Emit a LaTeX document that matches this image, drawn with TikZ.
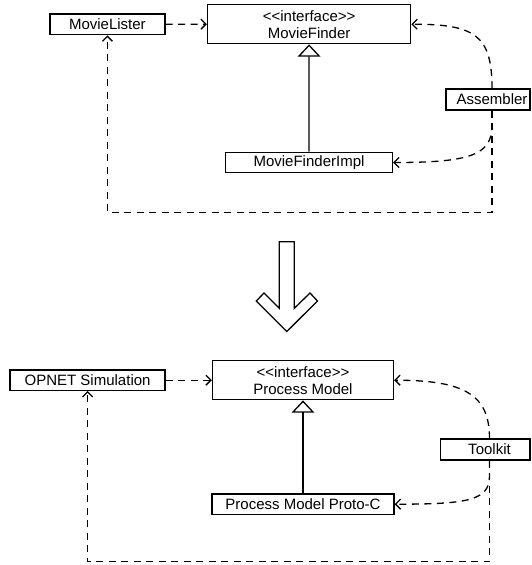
\documentclass[tikz,border=0pt]{standalone}
\usepackage{fontspec}
\setmainfont{Liberation Sans}
\usetikzlibrary{arrows.meta}
\begin{document}
\begin{tikzpicture}[x=1pt,y=-1pt, line width=1.3pt,
  box/.style={draw, rectangle, inner sep=0pt, font=\fontsize{15pt}{17pt}\selectfont, align=center},
  dep/.style={dash pattern=on 7pt off 5.5pt, -{Straight Barb[length=5pt,width=10pt]}},
  inh/.style={-{Triangle[open,length=12.3pt,width=22.7pt]}}]
\useasboundingbox (0,0) rectangle (531,565);

% ---------- top diagram ----------
\node[box, minimum width=115pt, minimum height=20.7pt] (lister) at (107.4,24.35) {MovieLister};
\node[box, minimum width=203.2pt, minimum height=39pt] (finder) at (309.1,24.2) {<{}<interface>{}>\\MovieFinder};
\node[box, minimum width=167pt, minimum height=20.4pt] (impl) at (309,162.5) {MovieFinderImpl};
\node[box, minimum width=84pt, minimum height=21pt] (asm) at (488,99.5) {\hspace*{8pt}Assembler};
\coordinate (asmT) at ([xshift=4pt]asm.north);
\coordinate (asmB) at ([xshift=4pt]asm.south);

\draw[dep] (lister.east) -- (finder.west);
\draw[inh] (impl.north) -- (finder.south);
\draw[dep] (asmT) .. controls (492,35) and (475,24.2) .. (finder.east);
\draw[dep] (asmB) -- ++(0,15) .. controls (492,155) and (470,162.5) .. (impl.east);
\draw[dep] (asmB) -- (492,212.3) -| (lister.south);

% ---------- big arrow ----------
\draw (279.3,241.7) -- (294.3,241.7) -- (294.3,308.3) -- (310,293) -- (317.5,301)
  -- (286.8,331.5) -- (256.3,301) -- (264,293) -- (279.3,308.3) -- cycle;

% ---------- bottom diagram ----------
\node[box, minimum width=155pt, minimum height=20.3pt] (opnet) at (87.6,380.2) {OPNET Simulation};
\node[box, minimum width=181pt, minimum height=39pt] (pm) at (303,380.2) {<{}<interface>{}>\\Process Model};
\node[box, minimum width=182pt, minimum height=20.3pt] (proto) at (303,504.2) {Process Model Proto-C};
\node[box, minimum width=89.3pt, minimum height=21pt] (tk) at (485.3,449.5) {\hspace*{8.4pt}Toolkit};
\coordinate (tkT) at ([xshift=4.2pt]tk.north);
\coordinate (tkB) at ([xshift=4.2pt]tk.south);

\draw[dep] (opnet.east) -- (pm.west);
\draw[inh] (proto.north) -- (pm.south);
\draw[dep] (tkT) .. controls (489.5,395) and (465,380.2) .. (pm.east);
\draw[dep] (tkB) -- ++(0,15) .. controls (489.5,500) and (470,504.2) .. (proto.east);
\draw[dep] (tkB) -- (489.5,561.7) -| (opnet.south);
\end{tikzpicture}
\end{document}
